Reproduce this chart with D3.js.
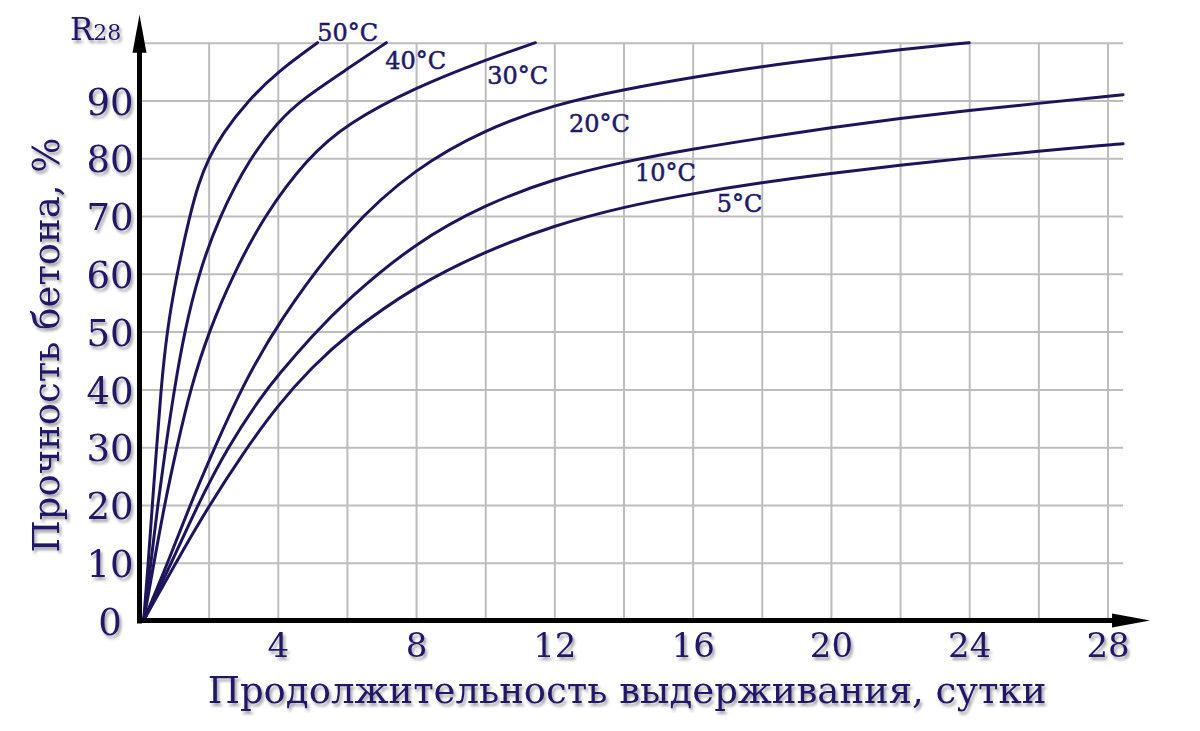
<!DOCTYPE html>
<html>
<head>
<meta charset="utf-8">
<script src="https://cdn.jsdelivr.net/npm/d3@7"></script>
<style>
body { margin: 0; background: #fff; }
svg { display: block; }
</style>
</head>
<body>
<div id="chart"></div>
<script>
// values
var xTicks = [4, 8, 12, 16, 20, 24, 28];
var yTicks = [0, 10, 20, 30, 40, 50, 60, 70, 80, 90];
var gridDays = [2, 4, 6, 8, 10, 12, 14, 16, 18, 20, 22, 24, 26, 28];
var gridVals = [10, 20, 30, 40, 50, 60, 70, 80, 90, 100];

var names = ['50°C', '40°C', '30°C', '20°C', '10°C', '5°C'];

var days50 = [0.12, 0.254, 0.37, 0.497, 0.621, 0.79, 1.08, 1.45, 1.7, 2.0, 2.4, 3.14, 4.0, 5.15];
var str50 = [0, 10, 20, 30, 40, 50, 60, 70, 75.5, 80, 84.3, 90, 95, 100];

var days40 = [0.12, 0.332, 0.526, 0.757, 1.006, 1.3, 1.71, 2.31, 3.19, 4.0, 4.7, 6.0, 7.14];
var str40 = [0, 10, 20, 30, 40, 50, 60, 70, 80, 86.3, 90.2, 95.4, 100];

var days30 = [0.12, 0.42, 0.72, 1.08, 1.47, 2.0, 2.72, 3.6, 4.85, 6.0, 8.0, 10.0, 11.45];
var str30 = [0, 10, 20, 30, 40, 50, 60, 70, 80, 86, 92.3, 97, 100];

var days20 = [0.12, 0.82, 1.46, 2.18, 2.93, 4, 6, 8, 10, 12, 14, 16, 18, 20, 22, 24];
var str20 = [0, 10, 20, 30, 40, 51.6, 67.8, 78.4, 85, 89.3, 91.9, 94, 95.9, 97.4, 98.8, 100];

var days10 = [0.12, 0.93, 1.68, 2.55, 3.5, 4, 5, 6, 8, 10, 12, 14, 16, 18, 20, 22, 24, 26, 28, 28.45];
var str10 = [0, 10, 20, 30, 38.6, 42.4, 49.3, 55.5, 65.5, 72.0, 76.5, 79.4, 81.6, 83.5, 85.3, 86.9, 88.3, 89.5, 90.7, 91.0];

var days5 = [0.12, 1.05, 2.0, 3.0, 4, 5, 6, 8, 10, 12, 14, 16, 18, 20, 22, 24, 26, 28, 28.45];
var str5 = [0, 10, 19.8, 29, 37.3, 43.9, 49.5, 58.0, 63.9, 68.4, 71.6, 73.9, 75.8, 77.4, 78.8, 80.1, 81.2, 82.3, 82.5];

var labelDays = [5.14, 7.11, 10.06, 12.42, 14.33, 16.70];
var labelVals = [100.3, 95.5, 92.9, 84.6, 76.1, 70.7];

var width = 1200, height = 731;
var ink = '#221866', lineInk = '#1d1459', font = '"DejaVu Serif", serif';

var x = d3.scaleLinear().domain([0, 28]).range([139.5, 1107.5]);
var y = d3.scaleLinear().domain([0, 100]).range([620.5, 42.7]);
var xEnd = 28.45;

var svg = d3.select('#chart').append('svg')
    .attr('width', width)
    .attr('height', height);

var defs = svg.append('defs');
var shadow = defs.append('filter').attr('id', 'shadow')
    .attr('x', '-10%').attr('y', '-20%').attr('width', '130%').attr('height', '150%');
shadow.append('feDropShadow')
    .attr('dx', 2).attr('dy', 3).attr('stdDeviation', 1.8)
    .attr('flood-color', '#000').attr('flood-opacity', 0.38);

// grid
svg.append('g')
    .attr('transform', 'translate(0,' + y(0) + ')')
    .call(d3.axisBottom(x).tickValues(gridDays).tickSize(-(y(0) - y(100))).tickFormat(''))
    .call(function(g) { g.select('.domain').remove(); })
    .selectAll('line')
    .attr('stroke', '#bdbdbd').attr('stroke-width', 2);

svg.append('g')
    .attr('transform', 'translate(' + x(0) + ',0)')
    .call(d3.axisLeft(y).tickValues(gridVals).tickSize(-(x(xEnd) - x(0))).tickFormat(''))
    .call(function(g) { g.select('.domain').remove(); })
    .selectAll('line')
    .attr('stroke', '#bdbdbd').attr('stroke-width', 2);

// curves
var line = d3.line()
    .x(function(d) { return x(d[0]); })
    .y(function(d) { return y(d[1]); })
    .curve(d3.curveBasis);

var curves = [
    d3.zip(days50, str50), d3.zip(days40, str40), d3.zip(days30, str30),
    d3.zip(days20, str20), d3.zip(days10, str10), d3.zip(days5, str5)
];

svg.append('g').selectAll('path')
    .data(curves)
    .enter().append('path')
    .attr('d', line)
    .attr('fill', 'none')
    .attr('stroke', lineInk)
    .attr('stroke-width', 3)
    .attr('stroke-linecap', 'round');

// curve labels
svg.append('g').selectAll('text')
    .data(names)
    .enter().append('text')
    .attr('x', function(d, i) { return x(labelDays[i]); })
    .attr('y', function(d, i) { return y(labelVals[i]); })
    .attr('fill', ink)
    .attr('stroke', ink)
    .attr('stroke-width', 0.5)
    .style('font-family', font)
    .style('font-size', '24px')
    .text(function(d) { return d; });

// axes with arrows
var x0 = x(0), y0 = y(0);
var yTop = y(100) - 28, xRight = x(xEnd) + 27;
svg.append('line')
    .attr('x1', x0).attr('y1', y0 + 3)
    .attr('x2', x0).attr('y2', yTop + 30)
    .attr('stroke', '#000').attr('stroke-width', 5);
svg.append('path')
    .attr('d', 'M' + x0 + ',' + yTop + 'L' + (x0 + 7) + ',' + (yTop + 38) + 'L' + (x0 - 7) + ',' + (yTop + 38) + 'Z')
    .attr('fill', '#000');
svg.append('line')
    .attr('x1', x0 - 2.5).attr('y1', y0)
    .attr('x2', xRight - 30).attr('y2', y0)
    .attr('stroke', '#000').attr('stroke-width', 5);
svg.append('path')
    .attr('d', 'M' + xRight + ',' + y0 + 'L' + (xRight - 38) + ',' + (y0 - 7) + 'L' + (xRight - 38) + ',' + (y0 + 7) + 'Z')
    .attr('fill', '#000');

// tick labels
var texts = svg.append('g').attr('filter', 'url(#shadow)');

texts.append('g')
    .attr('transform', 'translate(0,' + y0 + ')')
    .call(d3.axisBottom(x).tickValues(xTicks).tickSize(0))
    .call(function(g) { g.select('.domain').remove(); })
    .selectAll('text')
    .attr('y', 36).attr('dy', 0)
    .attr('fill', ink)
    .style('font-family', font)
    .style('font-size', '34px');

texts.append('g')
    .attr('transform', 'translate(110,0)')
    .call(d3.axisLeft(y).tickValues(yTicks).tickSize(0))
    .call(function(g) { g.select('.domain').remove(); })
    .selectAll('text')
    .attr('x', 0).attr('dy', '0.37em')
    .attr('text-anchor', 'middle')
    .attr('fill', ink)
    .style('font-family', font)
    .style('font-size', '37px');

// titles
texts.append('text')
    .attr('x', 627).attr('y', 703)
    .attr('text-anchor', 'middle')
    .attr('fill', ink)
    .style('font-family', font)
    .style('font-size', '37px')
    .text('Продолжительность выдерживания, сутки');

texts.append('text')
    .attr('transform', 'translate(59,345) rotate(-90)')
    .attr('text-anchor', 'middle')
    .attr('fill', ink)
    .style('font-family', font)
    .style('font-size', '37px')
    .text('Прочность бетона, %');

var r28 = texts.append('text')
    .attr('x', 70).attr('y', 40)
    .attr('fill', ink)
    .style('font-family', font);
r28.append('tspan').style('font-size', '31px').text('R');
r28.append('tspan').style('font-size', '22px').text('28');
</script>
</body>
</html>
